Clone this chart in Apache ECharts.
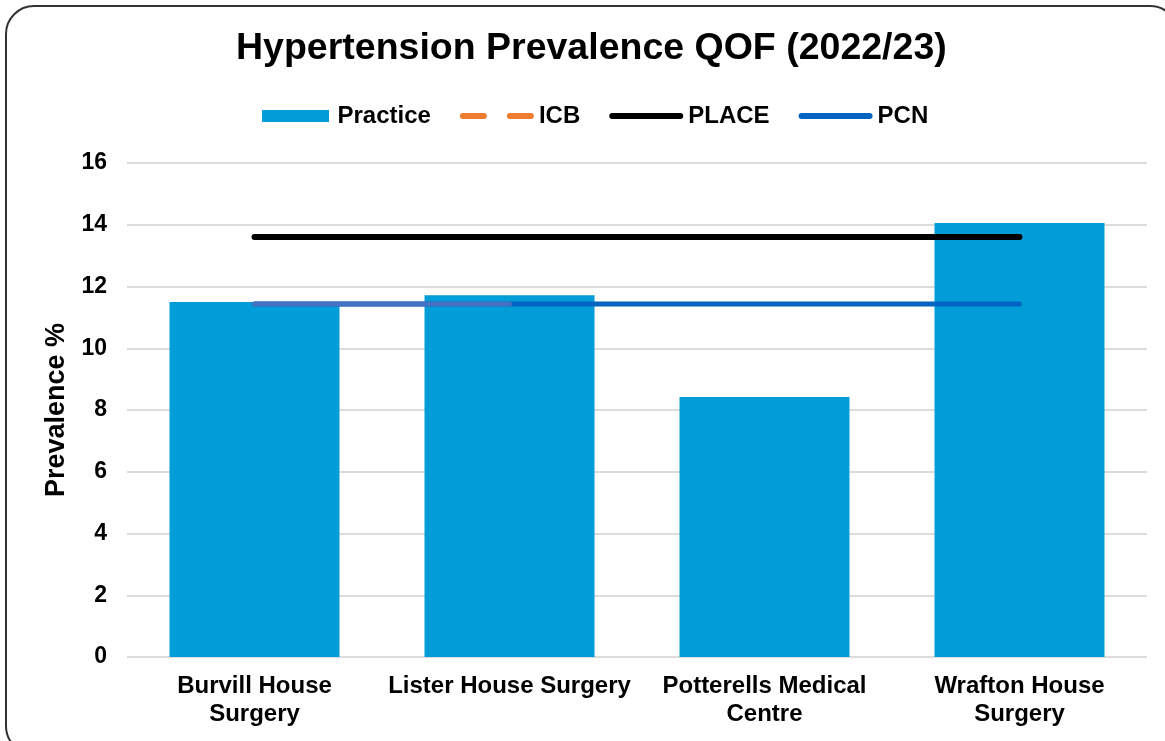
<!DOCTYPE html>
<html>
<head>
<meta charset="utf-8">
<script src="https://cdn.jsdelivr.net/npm/echarts@6/dist/echarts.min.js"></script>
<style>
  html, body {margin: 0; padding: 0; background: #fff;}
  #chart {width: 1165px; height: 741px;}
</style>
</head>
<body>
<div id="chart"></div>
<script>
// values
let categories = ['Burvill House\nSurgery', 'Lister House Surgery', 'Potterells Medical\nCentre', 'Wrafton House\nSurgery'];
let practice = [11.5, 11.72, 8.42, 14.06];
let icb = [null, null, null, null];
let place = [13.6, 13.6, 13.6, 13.6];
let pcn = [11.43, 11.43, 11.43, 11.43];
let pcnFirst = [11.43, 11.43, null, null];
let yTicks = [0, 16, 2];

let font = 'Liberation Sans, Arial, sans-serif';
// legend glyphs: bar block, solid rounded line, dashed line
let barIcon = 'path://M0,0 H67 V12 H0 Z';
let lineIcon = 'path://M3,0 H71 A3,3 0 0 1 71,6 H3 A3,3 0 0 1 3,0 Z';
let dashIcon = 'path://M3,0 H24 A3,3 0 0 1 24,6 H3 A3,3 0 0 1 3,0 Z M50,0 H71 A3,3 0 0 1 71,6 H50 A3,3 0 0 1 50,0 Z';

let chart = echarts.init(document.getElementById('chart'));

let option = {
    backgroundColor: '#fff',
    textStyle: {fontFamily: font},
    title: {
        text: 'Hypertension Prevalence QOF (2022/23)',
        left: 231, top: 25,
        textStyle: {fontSize: 37.5, fontWeight: 'bold', color: '#000', fontFamily: font}
    },
    legend: {
        left: 257, top: 99,
        itemWidth: 74, itemHeight: 12, itemGap: 29,
        data: [
            {name: 'Practice', icon: barIcon},
            {name: 'ICB', icon: dashIcon},
            {name: 'PLACE', icon: lineIcon},
            {name: 'PCN', icon: lineIcon}
        ],
        textStyle: {fontSize: 24, fontWeight: 'bold', color: '#000'}
    },
    grid: {left: 127, right: 18, top: 163, bottom: 84, containLabel: false, outerBoundsMode: 'none'},
    xAxis: {
        type: 'category',
        data: categories,
        axisLine: {show: false},
        axisTick: {show: false},
        axisLabel: {
            margin: 15, fontSize: 24, fontWeight: 'bold', color: '#000',
            lineHeight: 28, interval: 0
        }
    },
    yAxis: {
        type: 'value',
        min: yTicks[0], max: yTicks[1], interval: yTicks[2],
        name: 'Prevalence %',
        nameLocation: 'middle',
        nameGap: 57,
        nameTextStyle: {fontSize: 27, fontWeight: 'bold', color: '#000'},
        axisLine: {show: false},
        axisTick: {show: false},
        axisLabel: {margin: 20, fontSize: 23, fontWeight: 'bold', color: '#000'},
        splitLine: {lineStyle: {color: '#dcdcdc', width: 2}}
    },
    series: [
        {
            name: 'Practice', type: 'bar', data: practice,
            barWidth: 170,
            itemStyle: {color: '#009DD9'}
        },
        {
            name: 'ICB', type: 'line', data: icb, symbol: 'none',
            itemStyle: {color: '#ED7D31'},
            lineStyle: {color: '#ED7D31', width: 6, type: [18, 26], cap: 'round'}
        },
        {
            name: 'PLACE', type: 'line', data: place, symbol: 'none',
            itemStyle: {color: '#000'},
            lineStyle: {color: '#000', width: 6, cap: 'round'}
        },
        {
            name: 'PCN', type: 'line', data: pcn, symbol: 'none',
            itemStyle: {color: '#0563C1'},
            lineStyle: {color: '#0563C1', width: 5, cap: 'round'}
        },
        {
            name: 'PCN first', type: 'line', data: pcnFirst, symbol: 'none',
            itemStyle: {color: '#4472C4'},
            lineStyle: {color: '#4472C4', width: 5, cap: 'round'}
        }
    ],
    graphic: [
        {
            type: 'rect', silent: true, z: 100,
            shape: {x: 6, y: 6, width: 1172, height: 748, r: 28},
            style: {fill: 'none', stroke: '#333', lineWidth: 2}
        }
    ]
};

chart.setOption(option);
</script>
</body>
</html>
